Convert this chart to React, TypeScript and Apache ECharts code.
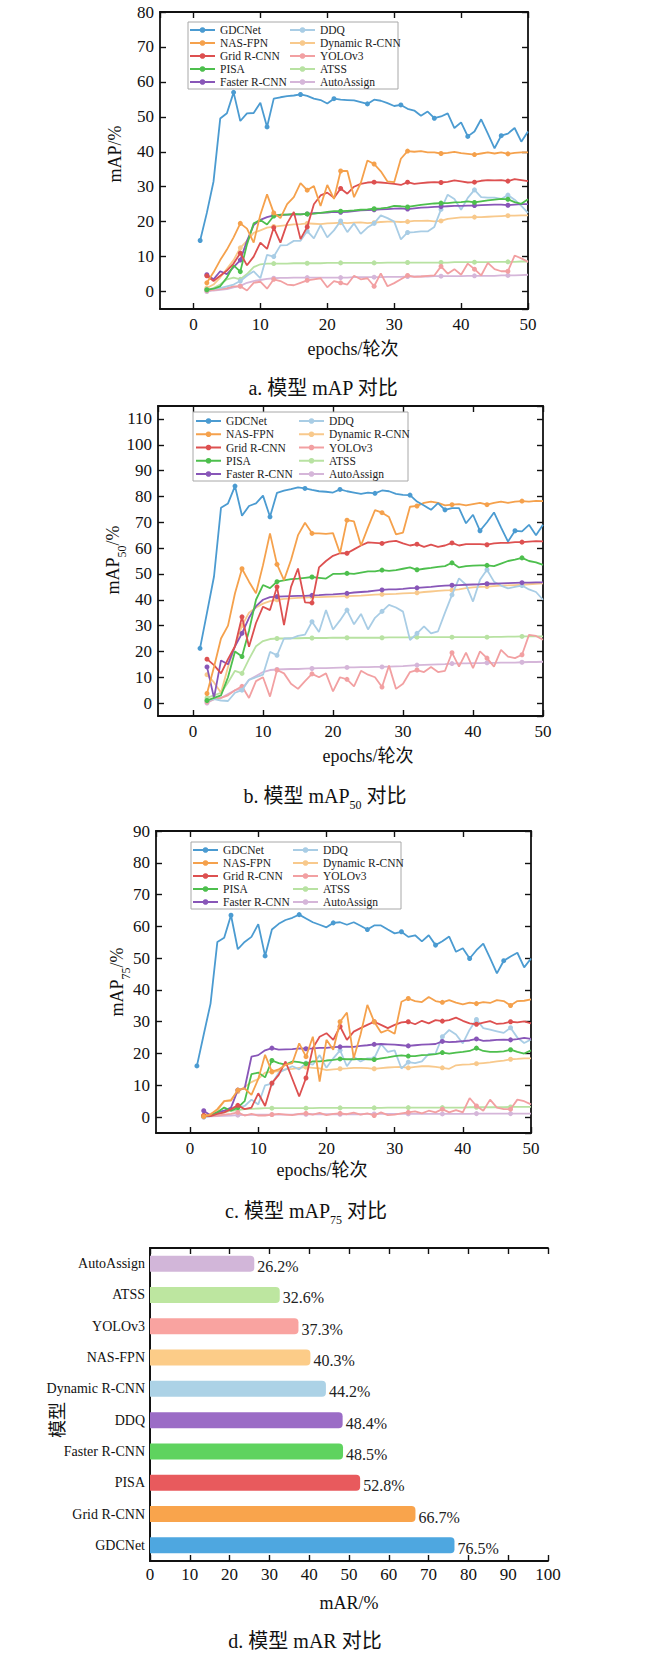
import React, { useEffect, useRef } from 'react';
import * as echarts from 'echarts';

const EPOCHS = [1,2,3,4,5,6,7,8,9,10,11,12,13,14,15,16,17,18,19,20,21,22,23,24,25,26,27,28,29,30,31,32,33,34,35,36,37,38,39,40,41,42,43,44,45,46,47,48,49,50];

const MODEL_NAMES = ['GDCNet','NAS-FPN','Grid R-CNN','PISA','Faster R-CNN','DDQ','Dynamic R-CNN','YOLOv3','ATSS','AutoAssign'];
const LINE_COLORS = ['#4b9bd1','#f5a14c','#dd5050','#4dbf4d','#8856b8','#a9cde5','#f8c98c','#f2a0a2','#b8e2a2','#d5b6d9'];

// ---- a. mAP (GDCNet from epoch 1, others from epoch 2)
const MAP_GDCNET = [14.6,22.5,31.5,49.5,51,57,48.8,51,51.1,54,47.1,55.2,55.6,55.9,56.1,56.4,56,55.2,54.8,53.8,55.2,54.9,54.8,54.7,54.2,53.7,54.9,54.6,53.9,53.1,53.4,52.3,51.8,50.3,51.5,49.6,50.1,51,46.8,48.4,44.4,45.8,49.3,45.2,41,44.6,45.2,46.8,42.9,45.8];
const MAP_NAS = [2.5,5.5,9,12,15.5,19.5,18,14,22,27.8,22.5,21,25,27,31,29,30.2,24.5,30.5,26.5,34.5,34.5,27,31,37.5,36.5,34.4,31.5,31.3,38,40.2,40,40.2,39.8,39.8,39.5,39.7,40,39.6,39.4,39.2,39.5,39.8,39.5,39.8,39.4,39.7,39.8,39.8];
const MAP_GRID = [4.5,3,4.5,6,8,11,7.5,10,14,12.2,18.3,14,19.5,22.8,15,18.5,25,27.5,28.3,26.8,29.5,28,30,30.8,31.2,31.3,31.2,31,30.8,30.5,31.3,30.8,31,31.2,31.3,31.2,31.4,31.8,31.5,31.2,31.3,31.7,31.9,31.8,31.9,31.6,32.2,31.9,31.6];
const MAP_PISA = [0.5,0.8,1.5,4,7.5,5.7,13.5,19.5,20.5,19.2,21.6,22,22,22.2,22.1,22.2,22.3,22.5,22.8,23,23,23.1,23.2,23.4,23.5,23.7,23.8,24,24.5,24.4,24.2,24.5,24.8,25,25.2,25.3,25.3,25.5,25.6,25.8,25.5,25.8,26.1,26.3,26.5,26.4,25.6,25.1,26.4];
const MAP_FASTER = [4.8,3.5,5.8,5,7,9,14.5,19,20.5,21.3,21.8,21.9,22,22,22.1,22.2,22.4,22.5,22.6,22.8,22.7,22.8,23,23.2,23.3,23.4,23.5,23.6,23.7,23.8,23.6,23.8,24,24.1,24.2,24.3,24.4,24.5,24.5,24.6,24.6,24.7,24.8,24.9,24.9,24.7,24.9,25,25];
const MAP_DDQ = [0.5,0.8,1,1.5,2,3,4.5,5.8,3.8,10.5,10,13.2,13.3,14.5,14.5,17.3,15.2,19,15.5,17.5,20.2,17,19.5,16.5,18.3,19.5,21.8,21,20,14.9,16.9,17,17.2,17.2,18.5,23.5,27.7,26.5,23.4,26.8,29.1,27,26.9,26.9,26.5,27.6,26.3,24.5,22.5];
const MAP_DYN = [1,2,4,6.5,9,12.5,14.5,16.8,17.5,18.3,18.6,18.8,19,19.2,19.3,19.5,19.4,19.3,19.5,19.6,19.7,19.6,19.7,19.8,19.6,19.7,19.9,20,20,19.9,20,20.2,20.2,20.3,20.1,20.2,20.8,21,21.2,21.2,21.3,21.3,21.4,21.5,21.6,21.7,21.7,21.8,21.8];
const MAP_YOLO = [0.3,0.5,0.7,1,1.5,1.5,0.3,2.5,2.8,0.8,3.5,3,2,1.8,2.5,3.2,3.5,3.8,1.2,3,2.5,2,4.5,3.5,3.8,1.5,5.2,1.5,2.4,3.5,4.6,4.2,4.3,4.5,4.6,7.2,5.1,6.4,4.8,8,6.4,4.6,8.2,6.4,5.8,5.8,10.3,9.5,8.5];
const MAP_ATSS = [0.5,1,2,3.5,4,3.5,5,7,7.8,8,8,8,8,8.1,8.1,8.1,8.1,8.1,8.2,8.2,8.2,8.2,8.2,8.2,8.2,8.2,8.2,8.3,8.3,8.3,8.3,8.3,8.3,8.3,8.3,8.3,8.3,8.4,8.4,8.4,8.4,8.4,8.4,8.5,8.5,8.5,8.5,8.6,8.6];
const MAP_AUTO = [0,0.3,0.5,0.7,1.2,1.6,2.5,3,3.3,3.6,3.8,3.9,3.9,4,4,4,4,4,4,4,4,4,4.1,4.1,4.1,4.1,4.1,4.2,4.2,4.2,4.3,4.3,4.3,4.3,4.4,4.4,4.4,4.4,4.4,4.5,4.5,4.5,4.5,4.5,4.6,4.6,4.6,4.7,4.8];

// ---- b. mAP50
const M50_GDCNET = [21.2,35,49,75.6,77.3,84,72.5,76.3,77.3,80.3,72.1,81.4,82.2,82.8,83.5,83.1,82.5,82,81.8,81.5,82.7,82,81.5,81,81.5,81.2,82.3,82,81,80.6,80.5,78,76.5,74.8,77.4,74.8,75.5,75.5,69.6,72.9,66.7,70,73.8,68,62.5,66.7,66.5,69,65,69];
const M50_NAS = [3.7,14,25,30,42.5,52,47,42.5,53.4,65.7,53.7,47.6,55.4,65,69.8,65.7,65.7,65.5,65.8,58,70.8,70.3,61,68,74.7,73.7,72,65.3,66,76,76.3,77.5,78,77.5,76.5,76.8,77,76.5,77,77.5,76.8,77.5,78,77.5,78,78.2,78,78.3,78.2];
const M50_GRID = [17,14.7,11.5,17,22,33.4,21.8,31,37.3,36,45,30.2,45,52.1,39,38.8,52.5,55,57,58,58,59.5,61,62.2,62,61.8,62.5,62.8,61.8,61,61.5,60.5,61.3,60.5,61,62,61,61.5,61.5,61.5,61.3,61.8,62,62,62.3,62.3,62.5,62.7,62.6];
const M50_PISA = [1,2,3,10,20,18,28,40,45.7,44.5,47,47.5,48,48.2,48.5,48.8,48.5,48.2,50,50,50.2,50,50.5,51,51,51.5,51.2,51.5,52,52.5,51.6,52,52.3,52.7,53,54.3,52.5,53,53.2,53.3,53.3,53,54,55,55.5,56.2,55,54.5,53.5];
const M50_FASTER = [14,2,16.5,15,22,27,33,37.5,40,41,41.2,41.3,41.4,41.5,41.5,41.7,41.8,42,42.1,42.3,42.5,42.8,43,43.2,43.5,43.8,44,44,44.2,44.5,44.6,44.8,45,45.3,45.5,45.6,45.7,45.8,45.9,46,46.2,46.2,46.3,46.4,46.5,46.6,46.6,46.7,46.7];
const M50_DDQ = [1,1.5,1,0.8,4,5,9,10,11,19.8,18.5,25,25,26,26.5,31.5,27.5,36,28.5,32,36,30.5,34.5,28.5,33,35.5,38,37,35.4,24.4,27,29.7,27,27.8,35,41.9,48.3,45.8,39.3,47.7,51.6,47,45.5,44.4,45,45.5,44,43,40];
const M50_DYN = [11,8,4,14,22,30,35,37,38.5,39.5,40,40.3,40.5,40.7,40.8,41,41,41.1,41.2,41.3,41.4,41.5,41.6,41.8,42,42.1,42.2,42.3,42.5,42.6,42.7,43,43.2,43.4,43.6,43.7,44,44.5,44.8,45,45.1,45.3,45.5,45.6,45.7,45.8,46,46.2,46.3];
const M50_YOLO = [0.5,1.5,2,3,5,6.5,2,8.5,10,2.5,12.8,11.5,7.5,5.5,8.5,11.3,10,11.5,4.5,10,9.2,6.5,12.5,11,10,6.2,14.5,5.5,7.5,12,12.8,12,14,12,12.5,19.5,14.1,19.5,13.5,20,17.4,14.1,20.6,18,17.4,18.7,26.4,26,24.5];
const M50_ATSS = [2,3,4,8,12.5,11.5,17,22,24,24.8,25,25,25.1,25.1,25.2,25.2,25.2,25.2,25.3,25.3,25.3,25.3,25.3,25.3,25.3,25.3,25.4,25.4,25.4,25.4,25.5,25.5,25.5,25.5,25.5,25.5,25.5,25.5,25.5,25.5,25.5,25.6,25.6,25.7,25.7,25.8,25.8,25.8,25.8];
const M50_AUTO = [0,1.5,2,3.5,5,5.5,9,10.5,12,12.8,13,13.1,13.2,13.2,13.3,13.4,13.5,13.5,13.6,13.7,13.8,13.8,13.9,13.9,14,14,14.1,14.2,14.3,14.5,14.7,14.8,14.9,15,15.1,15.3,15.4,15.4,15.5,15.5,15.6,15.6,15.7,15.7,15.7,15.8,15.9,15.9,16];

// ---- c. mAP75
const M75_GDCNET = [16.1,26,35.7,55.1,56.4,63.5,52.8,55.1,56.7,60.7,50.7,59,60.8,62,62.7,63.7,62.5,61.3,60.5,59.7,61.1,61.3,60.5,61.3,60.2,59,60.3,60.3,59,57.8,58.3,56.7,57.2,55.3,57.2,54.1,55.3,56.8,52,53.1,49.9,52.5,54.6,50,45.2,49.2,50.5,51.7,47.1,49.9];
const M75_NAS = [0.2,0.8,2.5,5,5.2,8.5,9,7,12,19.6,14.3,15,16.5,17,23.2,19,25.3,11.2,24.3,21.2,30,32.9,18.5,26,35.3,30,26.6,27.4,26.2,36.3,37.3,36.5,36.2,37.8,36.5,36.1,36.8,36,35.5,36,35.7,36.2,35.9,36.8,36.5,35.1,36.5,36.6,37];
const M75_GRID = [0.5,0.3,1,1.5,2.5,3.7,2.5,3,7.5,3.5,10.7,13.3,17.5,12,6.5,12.3,21.7,25.3,26.4,24.3,28.5,24.3,26.9,28,29,30,29,28,29,29.8,30,29.2,30.3,29.5,30.5,30.2,30.5,31.3,30.3,29.5,29.2,29.7,30.2,29.3,29.5,30,29.8,30.1,29.5];
const M75_PISA = [0.3,0.5,1.5,3,2,3,5,13.5,14,12.5,17.8,17,16.5,17.5,17.3,16.8,17.5,17.5,17.8,18,18.3,18.2,18.2,18.3,18.2,18.1,18.5,18.8,19.2,19.4,19.2,19.2,19.5,19.6,19.8,20.3,20,20.3,20.5,20.8,21.7,20.8,20.5,20.5,20.7,21.2,20.5,20,21];
const M75_FASTER = [2,0.5,1.5,2,3,8.5,9,19,19.5,21,21.7,21.2,21.3,21.4,21.6,21.5,21.6,21.8,21.8,22,22.1,22.2,22.1,22.4,22.6,22.9,23,22.9,22.8,22.6,22.4,22.6,22.8,22.9,23,23.8,23.6,23.7,23.9,24.1,24.6,24,24.1,24.3,24.4,24.3,24.5,24.9,24.6];
const M75_DDQ = [0,0.3,1,2,2.5,3,3.5,5.5,4,10,10.5,14,15,16,15,17,16.5,19.5,15.5,18.5,21,16,19,17.5,18.5,18.5,23,20.5,21,15.3,17.3,17,17.5,19.9,20,25.3,27.4,26,23.2,27.5,30.7,28,27.5,27,26.5,28.1,25,23.3,24.4];
const M75_DYN = [0.5,1,2,5,5.5,8,9.5,11,12,14,14.2,14.5,15,15.2,15.5,15.7,15.5,15.3,14.8,15,15.2,15.3,15.5,15.5,15.4,15.2,15.4,15.6,15.7,15.8,15.5,15.8,16,16,15.8,15.5,15.2,16.3,16.5,16.6,16.8,17,17.2,17.5,17.8,18.2,18.3,18.5,18.5];
const M75_YOLO = [0.3,0.3,0.5,0.8,1,1.5,0.5,1,0.5,0.5,0.8,1,0.8,0.6,1,1.2,0.8,1.3,0.6,1,1.2,0.9,1.4,0.8,1.2,0.5,1.5,0.6,0.8,1.2,1.5,1.8,1.2,2,1.5,2.5,1.5,2.2,1.5,6,3.5,2,5.5,3,2.5,2.5,5.5,5,4];
const M75_ATSS = [0.5,0.8,1,1.5,2,2.2,2.5,2.6,2.7,2.8,2.8,2.8,2.8,2.8,2.8,2.8,2.8,2.9,2.9,2.9,2.9,2.9,2.9,2.9,2.9,2.9,2.9,3,3,3,3,3,3,3,3,3,3,3,3,3.1,3.1,3.1,3.1,3.1,3.1,3.2,3.2,3.2,3.2];
const M75_AUTO = [0,0.2,0.3,0.4,0.5,0.6,0.7,0.7,0.8,0.8,0.8,0.8,0.8,0.8,0.9,0.9,0.9,0.9,0.9,0.9,0.9,0.9,0.9,0.9,1,1,1,1,1,1,1,1,1,1,1,1,1,1,1,1,1.1,1.1,1.1,1.1,1.1,1.1,1.1,1.1,1.1];

// ---- d. mAR bars (bottom to top)
const BAR_MODELS = ['GDCNet','Grid R-CNN','PISA','Faster R-CNN','DDQ','Dynamic R-CNN','NAS-FPN','YOLOv3','ATSS','AutoAssign'];
const BAR_VALUES = [76.5,66.7,52.8,48.5,48.4,44.2,40.3,37.3,32.6,26.2];
const BAR_COLORS = ['#4ea7e0','#f9a44c','#e85a5d','#5fd35f','#9b6cc6','#acd2e6','#fccc88','#f9a3a0','#bde6a0','#d2b6d9'];

const MAP_SERIES = [MAP_GDCNET,MAP_NAS,MAP_GRID,MAP_PISA,MAP_FASTER,MAP_DDQ,MAP_DYN,MAP_YOLO,MAP_ATSS,MAP_AUTO];
const M50_SERIES = [M50_GDCNET,M50_NAS,M50_GRID,M50_PISA,M50_FASTER,M50_DDQ,M50_DYN,M50_YOLO,M50_ATSS,M50_AUTO];
const M75_SERIES = [M75_GDCNET,M75_NAS,M75_GRID,M75_PISA,M75_FASTER,M75_DDQ,M75_DYN,M75_YOLO,M75_ATSS,M75_AUTO];

const FONT = '"Liberation Serif", "Times New Roman", "Noto Sans CJK SC", serif';
const INK = '#111';

const PANELS = [
  { data: MAP_SERIES, grid: { left: 160, top: 12, width: 368, height: 297 }, yMax: 80, hideMax: false,
    legendTop: 23.5, legendGap: 0, col1: 189, col2: 289, box: [188, 22, 210, 67] },
  { data: M50_SERIES, grid: { left: 158, top: 406, width: 385, height: 310 }, yMax: 115, hideMax: true,
    legendTop: 414.5, legendGap: 0.25, col1: 195, col2: 298, box: [193, 412, 215, 69] },
  { data: M75_SERIES, grid: { left: 156, top: 831, width: 375, height: 302 }, yMax: 90, hideMax: false,
    legendTop: 843.5, legendGap: 0, col1: 192, col2: 292, box: [191, 842, 210, 67] },
];

const axisLineStyle = { color: INK, width: 1.8 };
const tickStyle = { color: INK, width: 1.4 };
const labelStyle = { fontSize: 17, color: INK, fontFamily: FONT };

function valueAxis(extra: any) {
  return {
    type: 'value',
    splitLine: { show: false },
    minorTick: { show: false },
    axisLine: { show: true, onZero: false, lineStyle: axisLineStyle },
    axisTick: { show: true, inside: true, length: 6, lineStyle: tickStyle },
    ...extra,
  };
}

function buildOption() {
  const grids: any[] = [];
  const xAxes: any[] = [];
  const yAxes: any[] = [];
  const series: any[] = [];
  const legends: any[] = [];
  const elements: any[] = [];

  PANELS.forEach((p, i) => {
    grids.push({ ...p.grid, containLabel: false, outerBoundsMode: 'none' });
    xAxes.push(valueAxis({ gridIndex: i, position: 'bottom', min: -5, max: 50, minInterval: 10, maxInterval: 10,
      axisLabel: { ...labelStyle, margin: 7, showMinLabel: false } }));
    xAxes.push(valueAxis({ gridIndex: i, position: 'top', min: -5, max: 50, minInterval: 10, maxInterval: 10,
      axisLabel: { show: false } }));
    yAxes.push(valueAxis({ gridIndex: i, position: 'left', min: -5, max: p.yMax, minInterval: 10, maxInterval: 10,
      axisLabel: { ...labelStyle, margin: 6, showMinLabel: false, showMaxLabel: !p.hideMax } }));
    yAxes.push(valueAxis({ gridIndex: i, position: 'right', min: -5, max: p.yMax, minInterval: 10, maxInterval: 10,
      axisLabel: { show: false } }));
    MODEL_NAMES.forEach((name, k) => {
      const xs = k === 0 ? EPOCHS : EPOCHS.slice(1);
      const vals = p.data[k];
      series.push({
        type: 'line', name, xAxisIndex: 2 * i, yAxisIndex: 2 * i,
        data: vals.map((v: number, j: number) => [xs[j], v]),
        symbol: 'circle', showSymbol: true,
        symbolSize: (_v: any, params: any) => (params.dataIndex % 5 === 0 ? 5 : 0),
        lineStyle: { width: 1.8, color: LINE_COLORS[k] },
        itemStyle: { color: LINE_COLORS[k] },
        emphasis: { disabled: true },
        z: 2 + (MODEL_NAMES.length - k) * 0.01,
      });
    });
    const legendBase = {
      orient: 'vertical', top: p.legendTop, itemWidth: 25, itemHeight: 7, itemGap: p.legendGap, padding: 0,
      selectedMode: false, z: 5,
      textStyle: { fontFamily: FONT, fontSize: 11.5, color: '#222', lineHeight: 13 },
    };
    legends.push({ ...legendBase, left: p.col1, data: MODEL_NAMES.slice(0, 5) });
    legends.push({ ...legendBase, left: p.col2, data: MODEL_NAMES.slice(5) });
    elements.push({ type: 'rect', z: 3, shape: { x: p.box[0], y: p.box[1], width: p.box[2], height: p.box[3] },
      style: { fill: '#fff', stroke: '#a8a8a8', lineWidth: 1 } });
  });

  // bar panel
  grids.push({ left: 150, top: 1248, width: 398, height: 313, containLabel: false, outerBoundsMode: 'none' });
  xAxes.push(valueAxis({ gridIndex: 3, position: 'bottom', min: 0, max: 100, interval: 10,
    axisLabel: { ...labelStyle, margin: 5 } }));
  xAxes.push(valueAxis({ gridIndex: 3, position: 'top', min: 0, max: 100, interval: 10, axisLabel: { show: false } }));
  yAxes.push({ type: 'category', gridIndex: 3, position: 'left', data: BAR_MODELS,
    axisLine: { show: true, lineStyle: axisLineStyle }, axisTick: { show: false }, splitLine: { show: false },
    axisLabel: { fontSize: 14, color: INK, fontFamily: FONT, margin: 5 } });
  yAxes.push({ type: 'category', gridIndex: 3, position: 'right', data: BAR_MODELS,
    axisLine: { show: true, lineStyle: axisLineStyle }, axisTick: { show: false }, splitLine: { show: false },
    axisLabel: { show: false } });
  series.push({
    type: 'bar', name: 'mAR', xAxisIndex: 6, yAxisIndex: 6, barWidth: 16,
    data: BAR_VALUES.map((v, i) => ({ value: v, itemStyle: { color: BAR_COLORS[i] } })),
    itemStyle: { borderRadius: [0, 4, 4, 0] },
    label: { show: true, position: 'right', distance: 3, offset: [0, 3], formatter: '{c}%',
      fontSize: 16, color: '#222', fontFamily: FONT },
    emphasis: { disabled: true },
  });

  const txt = (text: string, x: number, y: number, size: number, rotation = 0) => ({
    type: 'text', x, y, rotation, z: 10,
    style: { text, fontSize: size, fontFamily: FONT, fill: INK, align: 'center', verticalAlign: 'middle' },
  });
  const richTxt = (main1: string, sub: string, main2: string, x: number, y: number, size: number, subSize: number, subLH: number, rotation = 0) => ({
    type: 'text', x, y, rotation, z: 10,
    style: {
      text: `{m|${main1}}{s|${sub}}{m|${main2}}`,
      align: 'center', verticalAlign: 'middle', fill: INK, fontFamily: FONT, fontSize: size,
      rich: {
        m: { fontSize: size, fontFamily: FONT, fill: INK, lineHeight: size, verticalAlign: 'top' },
        s: { fontSize: subSize, fontFamily: FONT, fill: INK, lineHeight: subLH, verticalAlign: 'middle' },
      },
    },
  });

  // captions
  elements.push(txt('a. 模型 mAP 对比', 323, 388, 20));
  elements.push(richTxt('b. 模型 mAP', '50', ' 对比', 325, 805, 20, 12, 38));
  elements.push(richTxt('c. 模型 mAP', '75', ' 对比', 306, 1220, 20, 12, 38));
  elements.push(txt('d. 模型 mAR 对比', 305, 1641, 20));
  // axis titles
  elements.push(txt('epochs/轮次', 353, 349, 18));
  elements.push(txt('epochs/轮次', 368, 756, 18));
  elements.push(txt('epochs/轮次', 322, 1170, 18));
  elements.push(txt('mAR/%', 349, 1603, 18));
  elements.push(txt('mAP/%', 115, 154, 18, Math.PI / 2));
  elements.push(richTxt('mAP', '50', '/%', 122, 560, 18, 12, 36, Math.PI / 2));
  elements.push(richTxt('mAP', '75', '/%', 126, 982, 18, 12, 36, Math.PI / 2));
  elements.push(txt('模型', 58, 1420, 18, Math.PI / 2));

  return {
    animation: false,
    backgroundColor: '#fff',
    textStyle: { fontFamily: FONT },
    grid: grids,
    xAxis: xAxes,
    yAxis: yAxes,
    legend: legends,
    series,
    graphic: { elements },
  };
}

export default function App() {
  const ref = useRef<HTMLDivElement>(null);
  useEffect(() => {
    if (!ref.current) return;
    const chart = echarts.init(ref.current, undefined, { renderer: 'svg' });
    chart.setOption(buildOption() as any);
    return () => chart.dispose();
  }, []);
  return (
    <div
      ref={ref}
      style={{ position: 'absolute', left: 0, top: 0, width: 650, height: 1662, background: '#fff' }}
    />
  );
}
